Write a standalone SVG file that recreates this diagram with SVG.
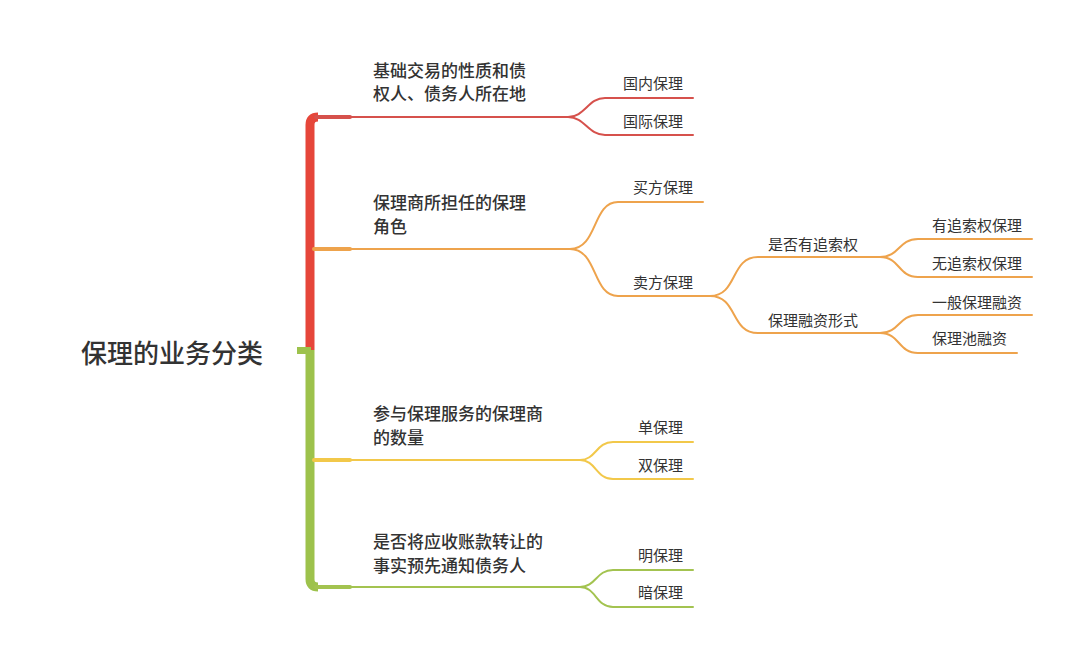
<svg xmlns="http://www.w3.org/2000/svg" width="1080" height="656" viewBox="0 0 1080 656">
<style>
text{font-family:"Noto Sans CJK SC","Noto Sans",sans-serif;fill:#333}
.root{font-size:26px;font-weight:500}
.br{font-size:17px;font-weight:500}
.sub{font-size:15px}
.l{fill:none;stroke-linecap:round;stroke-linejoin:round}
.trunk{fill:none;stroke-width:9;stroke-linecap:butt}
.red{stroke:#d6514c}
.org{stroke:#eea34c}
.yel{stroke:#f2c84a}
.grn{stroke:#a3c350}
.thin{stroke-width:2}
.thick{stroke-width:4}
</style>
<rect width="1080" height="656" fill="#fff"/>
<g id="connectors">
<path class="trunk" d="M310,350 V125 Q310,117 318,117" stroke="#e6463a"/>
<path class="trunk" d="M310,350 V579 Q310,587 318,587" stroke="#9dc24c"/>
<rect x="297" y="347" width="14" height="7" fill="#9dc24c"/>
<path class="l red thick" d="M316,117 H350"/>
<path class="l red thin" d="M350,117 H568 C585,117 588,98 605,98 H693"/>
<path class="l red thin" d="M568,117 C585,117 588,135 605,135 H693"/>
<path class="l org thick" d="M314,249 H350"/>
<path class="l org thin" d="M350,249 H570 C598,249 592,202 618,202 H703"/>
<path class="l org thin" d="M570,249 C598,249 592,296 618,296 H710"/>
<path class="l org thin" d="M710,296 C738,296 730,257 758,257 H880"/>
<path class="l org thin" d="M710,296 C738,296 730,333 758,333 H880"/>
<path class="l org thin" d="M880,257 C900,257 898,239 918,239 H1032"/>
<path class="l org thin" d="M880,257 C900,257 898,277 918,277 H1032"/>
<path class="l org thin" d="M880,333 C900,333 898,315 918,315 H1032"/>
<path class="l org thin" d="M880,333 C900,333 898,353 918,353 H1017"/>
<path class="l yel thick" d="M314,460 H350"/>
<path class="l yel thin" d="M350,460 H580 C596,460 596,442 613,442 H693"/>
<path class="l yel thin" d="M580,460 C596,460 596,479 613,479 H693"/>
<path class="l grn thick" d="M316,587 H350"/>
<path class="l grn thin" d="M350,587 H580 C596,587 596,570 613,570 H693"/>
<path class="l grn thin" d="M580,587 C596,587 596,607 613,607 H693"/>
</g>
<g id="root"><text class="root" x="81" y="363">保理的业务分类</text></g>
<g id="b1"><text class="br" x="373" y="77">基础交易的性质和债</text><text class="br" x="373" y="100">权人、债务人所在地</text></g>
<g id="b1a"><text class="sub" x="623" y="89">国内保理</text></g>
<g id="b1b"><text class="sub" x="623" y="127">国际保理</text></g>
<g id="b2"><text class="br" x="373" y="209">保理商所担任的保理</text><text class="br" x="373" y="233">角色</text></g>
<g id="b2a"><text class="sub" x="633" y="193">买方保理</text></g>
<g id="b2b"><text class="sub" x="633" y="288">卖方保理</text></g>
<g id="b2b1"><text class="sub" x="768" y="250">是否有追索权</text></g>
<g id="b2b2"><text class="sub" x="768" y="326">保理融资形式</text></g>
<g id="b2b1a"><text class="sub" x="932" y="231">有追索权保理</text></g>
<g id="b2b1b"><text class="sub" x="932" y="269">无追索权保理</text></g>
<g id="b2b2a"><text class="sub" x="932" y="308">一般保理融资</text></g>
<g id="b2b2b"><text class="sub" x="932" y="344">保理池融资</text></g>
<g id="b3"><text class="br" x="373" y="420">参与保理服务的保理商</text><text class="br" x="373" y="444">的数量</text></g>
<g id="b3a"><text class="sub" x="638" y="433">单保理</text></g>
<g id="b3b"><text class="sub" x="638" y="471">双保理</text></g>
<g id="b4"><text class="br" x="373" y="548">是否将应收账款转让的</text><text class="br" x="373" y="572">事实预先通知债务人</text></g>
<g id="b4a"><text class="sub" x="638" y="561">明保理</text></g>
<g id="b4b"><text class="sub" x="638" y="598">暗保理</text></g>
</svg>
